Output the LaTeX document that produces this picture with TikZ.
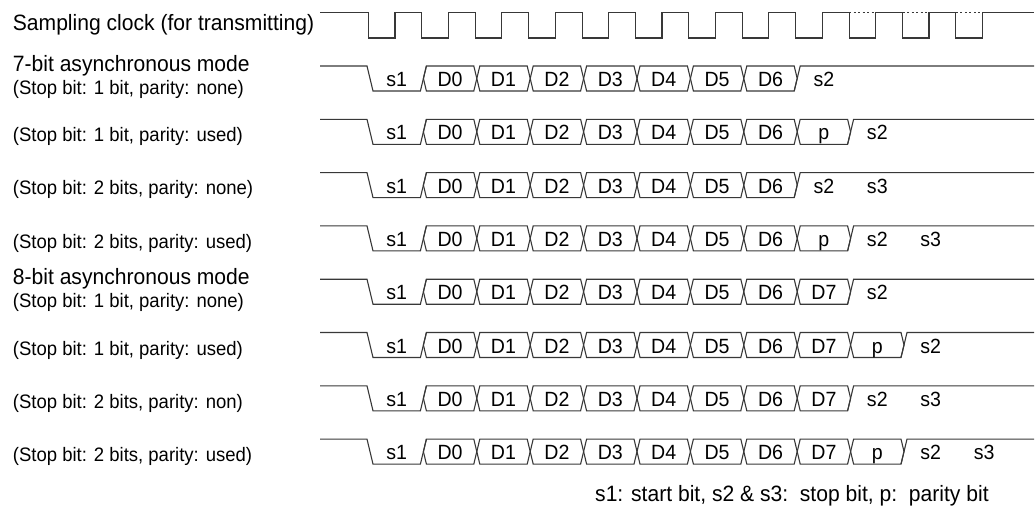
\documentclass[tikz,border=0pt]{standalone}
\usepackage{fontspec}
\setmainfont{Liberation Sans}[FakeStretch=0.95]
\usepackage{tikz}
\usetikzlibrary{arrows.meta,positioning,calc}
% one frame line: name, centre y, number of bus cells, cell texts, stop texts
\newcommand{\framerow}[5]{%
  \draw[wave] (320,#2-12.5) -- (367,#2-12.5) -- (373,#2+12.5)
        -- (420.4,#2+12.5) -- (426.4,#2-12.5);
  \node[bit] (#1-s1) at (396.7,#2+8) {s1};
  \foreach \lbl [count=\k] in {#4} {
    \draw[wave] ({370+53.4*\k},#2) -- ++(3,-12.5)
          -- ({370+53.4*(\k+1)-3},#2-12.5) -- ++(3,12.5) -- ++(-3,12.5)
          -- ({370+53.4*\k+3},#2+12.5) -- cycle;
    \node[bit] (#1-d\k) at ({370+53.4*(\k+0.5)},#2+8) {\lbl};
  }
  \draw[wave] ({370+53.4*(#3+1)-3},#2+12.5) -- ++(6,-25) -- (1034,#2-12.5);
  \foreach \lbl [count=\j] in {#5}
    \node[bit] (#1-st\j) at ({370+53.4*(#3+\j+0.5)},#2+8) {\lbl};
}

\begin{document}
\begin{tikzpicture}[
  x=1pt, y=-1pt,
  wave/.style={draw=black!78, line width=1.1pt, line join=miter},
  bit/.style={font=\fontsize{20.6}{23}\selectfont, inner sep=0pt, anchor=base},
  lbl/.style={font=\fontsize{22.2}{25}\selectfont, inner sep=0pt, anchor=base west},
  sublbl/.style={font=\fontsize{19.5}{22}\selectfont, inner sep=0pt, anchor=base west}
]
  \useasboundingbox (0,0) rectangle (1036,511);
  % sampling clock
  \node[lbl] (clk) at (12.7,31) {Sampling clock (for transmitting)};
  \draw[wave] (320,12.5) \foreach \k in {0,...,11}{
      -- ({368.5+53.4*\k},12.5) -- ++(0,25.5) -- ++(26.5,0) -- ++(0,-25.5)}
    -- (1034,12.5);
  \foreach \k in {9,10,11}
    \draw[wave, line width=0.9pt, dash pattern=on 2pt off 2.5pt]
      ({368.5+53.4*\k},12.5) -- ++(26.5,0);
  % 7-bit asynchronous mode
  \node[lbl] (m7) at (12.7,71.5) {7-bit asynchronous mode};
  \node[sublbl] (m7a) at (12.7,94.3) {(Stop bit: 1 bit, parity: none)};
  \node[sublbl] (m7b) at (12.7,141.5) {(Stop bit: 1 bit, parity: used)};
  \node[sublbl] (m7c) at (12.7,194.8) {(Stop bit: 2 bits, parity: none)};
  \node[sublbl] (m7d) at (12.7,248.1) {(Stop bit: 2 bits, parity: used)};
  \framerow{ra}{78.5}{7}{D0,D1,D2,D3,D4,D5,D6}{s2}
  \framerow{rb}{131.8}{8}{D0,D1,D2,D3,D4,D5,D6,p}{s2}
  \framerow{rc}{185.1}{7}{D0,D1,D2,D3,D4,D5,D6}{s2,s3}
  \framerow{rd}{238.4}{8}{D0,D1,D2,D3,D4,D5,D6,p}{s2,s3}
  % 8-bit asynchronous mode
  \node[lbl] (m8) at (12.7,284.5) {8-bit asynchronous mode};
  \node[sublbl] (m8a) at (12.7,307.8) {(Stop bit: 1 bit, parity: none)};
  \node[sublbl] (m8b) at (12.7,355.1) {(Stop bit: 1 bit, parity: used)};
  \node[sublbl] (m8c) at (12.7,408.4) {(Stop bit: 2 bits, parity: non)};
  \node[sublbl] (m8d) at (12.7,461.7) {(Stop bit: 2 bits, parity: used)};
  \framerow{re}{291.7}{8}{D0,D1,D2,D3,D4,D5,D6,D7}{s2}
  \framerow{rf}{345}{9}{D0,D1,D2,D3,D4,D5,D6,D7,p}{s2}
  \framerow{rg}{398.3}{8}{D0,D1,D2,D3,D4,D5,D6,D7}{s2,s3}
  \framerow{rh}{451.6}{9}{D0,D1,D2,D3,D4,D5,D6,D7,p}{s2,s3}
  % legend
  \node[lbl] (key) at (595,501) {s1: start bit, s2 \& s3:\ \ stop bit, p:\ \ parity bit};
\end{tikzpicture}
\end{document}
